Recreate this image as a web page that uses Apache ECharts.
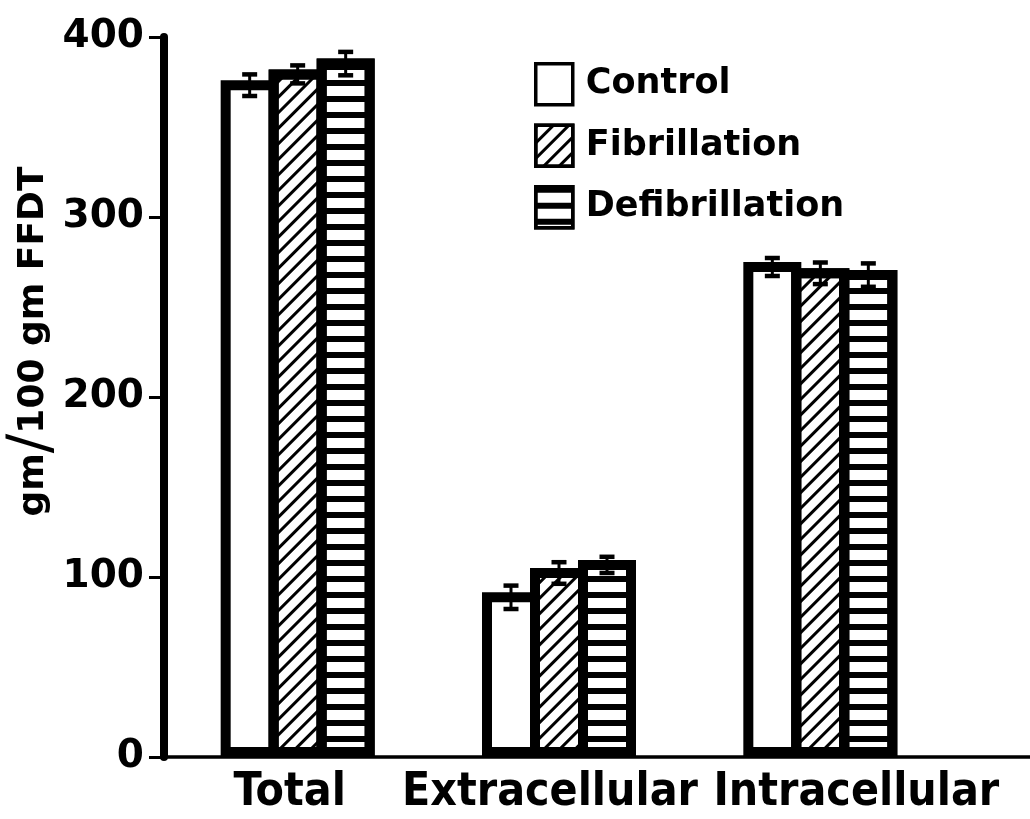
<!DOCTYPE html>
<html>
<head>
<meta charset="utf-8">
<script src="https://cdn.jsdelivr.net/npm/echarts@6/dist/echarts.min.js"></script>
<style>
html,body{margin:0;padding:0;background:#fff;}
#chart{width:1030px;height:819px;}
</style>
</head>
<body>
<div id="chart"></div>
<script>
// ---- data ----
const categories = ['Total', 'Extracellular', 'Intracellular'];
const seriesNames = ['Control', 'Fibrillation', 'Defibrillation'];
const control = [376, 91.5, 275];
const fibrillation = [382, 105, 271.5];
const defibrillation = [388, 109.5, 270.5];
const controlErr = [6, 6.5, 5];
const fibrillationErr = [5, 6, 6];
const defibrillationErr = [6.5, 4.5, 6.5];
const yTickValues = [0, 100, 200, 300, 400];

// ---- styles ----
const BAR_W = 58;          // outer width of one bar (border drawn inside)
const BORDER = 10;
const PITCH = BAR_W - BORDER; // neighbouring bars share one outline
const FONT = "'DejaVu Sans', sans-serif";
const COND = "'DejaVu Sans Condensed', 'Liberation Sans Narrow', 'DejaVu Sans', sans-serif";

const means = [control, fibrillation, defibrillation];
const errs = [controlErr, fibrillationErr, defibrillationErr];
const decals = [
  null,
  { symbol: 'rect', symbolSize: 1, color: '#000', dashArrayX: [1, 0], dashArrayY: [3, 8], rotation: -Math.PI / 4 },
  { symbol: 'rect', symbolSize: 1, color: '#000', dashArrayX: [1, 0], dashArrayY: [6, 9.7], rotation: 0 }
];

const barSeries = seriesNames.map((name, k) => {
  const itemStyle = { color: '#fff', borderColor: '#000', borderWidth: BORDER };
  if (decals[k]) itemStyle.decal = decals[k];
  return {
    name: name,
    type: 'bar',
    xAxisIndex: 0, yAxisIndex: 0,
    barWidth: BAR_W,
    barGap: (-BORDER / BAR_W * 100) + '%',
    data: means[k],
    itemStyle: itemStyle,
    emphasis: { disabled: true },
    z: 2
  };
});

const errSeries = seriesNames.map((name, k) => ({
  name: name + ' error',
  type: 'custom',
  xAxisIndex: 0, yAxisIndex: 0,
  z: 5,
  silent: true,
  data: categories.map((c, i) => [i, means[k][i] - errs[k][i], means[k][i] + errs[k][i]]),
  renderItem: function (params, api) {
    const off = (k - 1) * PITCH;
    const dy = BORDER / 2; // centred on the bar's top outline
    const lo = api.coord([api.value(0), api.value(1)]);
    const hi = api.coord([api.value(0), api.value(2)]);
    const x = lo[0] + off;
    const half = 7.5;
    const st = { stroke: '#000', lineWidth: 3 };
    const cap = { stroke: '#000', lineWidth: 4.5 };
    return {
      type: 'group',
      children: [
        { type: 'line', shape: { x1: x, y1: lo[1] + dy, x2: x, y2: hi[1] + dy }, style: st },
        { type: 'line', shape: { x1: x - half, y1: lo[1] + dy, x2: x + half, y2: lo[1] + dy }, style: cap },
        { type: 'line', shape: { x1: x - half, y1: hi[1] + dy, x2: x + half, y2: hi[1] + dy }, style: cap }
      ]
    };
  }
}));

const catRich = {
  c0: { fontSize: 46, fontWeight: 'bold', fontFamily: COND, color: '#000', padding: [0, 16, 0, 0] },
  c1: { fontSize: 46, fontWeight: 'bold', fontFamily: COND, color: '#000', padding: [0, 18, 0, 0] },
  c2: { fontSize: 46, fontWeight: 'bold', fontFamily: COND, color: '#000', padding: [0, 0, 0, 72] }
};

const option = {
  backgroundColor: '#fff',
  animation: false,
  grid: [
    { left: 167, width: 784, top: 37, bottom: 62, containLabel: false, outerBoundsMode: 'none' },
    { left: 164, right: 0, top: 37, bottom: 62, containLabel: false, outerBoundsMode: 'none' },
    { left: 164, right: 0, top: 160, bottom: 296, containLabel: false, outerBoundsMode: 'none' }
  ],
  legend: {
    data: seriesNames,
    orient: 'vertical',
    left: 529, top: 57,
    icon: 'rect',
    itemWidth: 37, itemHeight: 41, itemGap: 17,
    itemStyle: { borderWidth: 3.5, borderColor: '#000' },
    textStyle: { fontSize: 35, fontWeight: 'bold', fontFamily: FONT, color: '#000', padding: [0, 0, 0, 8] },
    selectedMode: false
  },
  xAxis: [
    {
      type: 'category', gridIndex: 0, data: categories,
      axisLine: { show: false }, axisTick: { show: false },
      axisLabel: {
        interval: 0, hideOverlap: false, margin: 13,
        fontSize: 46, fontWeight: 'bold', fontFamily: COND, color: '#000',
        formatter: function (v, i) { return '{c' + i + '|' + v + '}'; },
        rich: catRich
      }
    },
    {
      type: 'value', gridIndex: 1, min: 0, max: 1,
      axisLine: { show: true, lineStyle: { color: '#000', width: 3.5 } },
      axisTick: { show: false }, axisLabel: { show: false }, splitLine: { show: false }
    },
    { type: 'value', gridIndex: 2, min: 0, max: 1, show: false }
  ],
  yAxis: [
    {
      type: 'value', gridIndex: 0, offset: 3,
      min: yTickValues[0], max: yTickValues[yTickValues.length - 1], interval: 100,
      axisLine: { show: true, lineStyle: { color: '#000', width: 8 } },
      axisTick: { show: true, inside: false, length: 15, lineStyle: { color: '#000', width: 3 } },
      splitLine: { show: false },
      axisLabel: { color: '#000', fontSize: 39, fontWeight: 'bold', fontFamily: FONT, margin: 20 }
    },
    { type: 'value', gridIndex: 1, min: 0, max: 1, show: false },
    {
      type: 'value', gridIndex: 2, min: 0, max: 1,
      axisLine: { show: false }, axisTick: { show: false }, axisLabel: { show: false }, splitLine: { show: false },
      name: '{a|gm}{s|/}{a|100 gm FFDT}',
      nameLocation: 'middle',
      nameRotate: 90,
      nameGap: 101,
      nameMoveOverlap: false,
      nameTextStyle: {
        color: '#000',
        rich: {
          a: { fontSize: 36, fontWeight: 'bold', fontFamily: FONT, color: '#000' },
          s: { fontSize: 58, fontWeight: 'normal', fontFamily: FONT, color: '#000' }
        }
      }
    }
  ],
  series: barSeries.concat(errSeries)
};

const chart = echarts.init(document.getElementById('chart'), null, { renderer: 'canvas' });
chart.setOption(option);
</script>
</body>
</html>
